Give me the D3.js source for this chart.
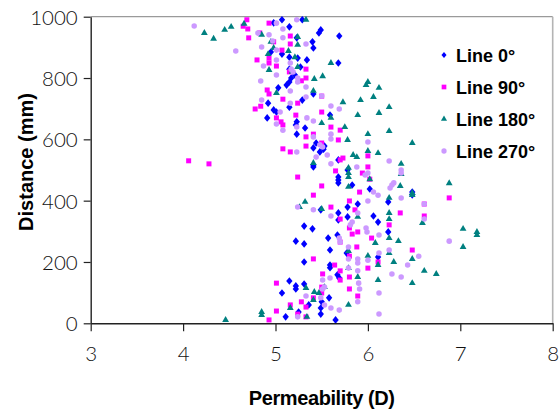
<!DOCTYPE html>
<html>
<head>
<meta charset="utf-8">
<script src="https://cdn.jsdelivr.net/npm/d3@7/dist/d3.min.js"></script>
<style>
  html, body { margin: 0; padding: 0; background: #fff; }
  svg { display: block; }
  .tick text { font-family: "Lato", "Liberation Sans", sans-serif; font-weight: 300; font-size: 20.5px; fill: #111; }
  .title { font-family: "Liberation Sans", Arial, sans-serif; font-weight: bold; font-size: 20px; fill: #000; }
  .legend text { font-family: "Liberation Sans", Arial, sans-serif; font-weight: bold; font-size: 18px; fill: #000; }
</style>
</head>
<body>
<script>
// Permeability readings [permeability (D), distance (mm)] along four survey lines
const seriesNames = ["Line 0°", "Line 90°", "Line 180°", "Line 270°"];
const seriesColors = ["#0000ff", "#ff00ff", "#008080", "#cc99ff"];

const line0 = [[5.07,990],[5.29,990],[4.98,980],[5.15,967],[5.49,957],[5.47,947],[5.69,937],[5.23,931],[5.40,918],[5.41,898],[4.95,885],[5.07,878],[5.15,868],[5.24,865],[5.34,859],[5.68,849],[5.27,836],[5.15,829],[5.21,810],[5.17,800],[5.15,787],[5.12,777],[5.03,768],[5.41,748],[5.29,728],[4.92,718],[5.15,705],[4.98,696],[5.01,689],[5.59,679],[4.91,670],[5.23,657],[5.22,647],[5.32,637],[5.23,617],[5.44,588],[5.53,578],[5.41,572],[5.52,568],[5.48,559],[5.68,533],[5.41,516],[5.41,510],[5.78,500],[5.68,477],[5.68,467],[5.68,458],[5.83,451],[6.02,438],[6.48,428],[6.48,419],[6.22,396],[5.89,389],[5.78,379],[5.49,370],[5.68,360],[6.06,350],[5.78,347],[5.68,337],[6.11,330],[5.31,317],[5.40,308],[6.22,298],[5.67,288],[5.57,278],[5.22,268],[5.31,259],[5.59,239],[5.77,229],[6.11,216],[5.31,200],[5.59,190],[5.59,181],[5.67,158],[5.69,148],[5.15,138],[5.31,128],[5.22,122],[5.22,112],[5.07,99],[5.58,83],[5.50,70],[5.36,60],[5.49,50],[5.25,37],[5.49,30],[5.11,21],[5.65,11]];

const line90 = [[4.69,990],[4.93,979],[4.65,969],[4.70,960],[4.83,947],[5.16,937],[4.71,931],[4.98,918],[5.16,911],[5.07,891],[4.80,859],[4.93,865],[4.93,849],[5.01,839],[5.33,829],[5.15,820],[5.33,800],[5.28,791],[4.91,761],[4.93,748],[5.50,741],[5.08,731],[5.24,718],[4.84,708],[4.78,699],[5.50,689],[5.22,679],[5.01,670],[5.06,657],[5.08,647],[5.60,640],[5.70,630],[5.41,617],[5.33,608],[5.68,598],[5.50,588],[5.33,578],[5.08,569],[5.16,559],[6.00,546],[5.73,539],[5.70,533],[4.06,530],[4.28,520],[6.00,510],[5.65,497],[5.94,490],[5.24,477],[6.02,470],[5.50,448],[5.91,428],[5.41,418],[6.88,409],[5.80,399],[6.61,389],[5.60,379],[5.86,370],[6.35,360],[6.61,350],[5.70,340],[6.23,321],[5.80,311],[5.89,298],[5.83,291],[6.04,278],[5.70,265],[5.88,249],[6.48,239],[5.80,219],[5.41,210],[6.11,200],[5.64,190],[6.00,180],[5.70,171],[5.51,161],[5.80,151],[5.70,141],[5.01,131],[5.50,118],[5.80,112],[5.50,99],[5.89,89],[5.41,83],[5.28,70],[5.16,60],[5.33,53],[5.01,40],[5.24,30],[5.33,21],[4.93,11]];

const line180 = [[5.33,990],[4.66,977],[4.52,967],[4.45,957],[4.23,947],[4.85,941],[5.24,934],[4.33,928],[4.95,918],[5.24,908],[4.98,898],[5.14,888],[4.92,878],[5.21,868],[5.60,849],[5.24,836],[4.93,826],[5.18,820],[5.51,806],[5.42,797],[6.00,787],[5.98,777],[6.12,768],[5.41,758],[5.01,751],[6.06,738],[5.92,728],[5.73,721],[6.23,705],[6.12,686],[5.89,679],[5.60,670],[5.50,653],[5.75,640],[6.23,627],[6.00,617],[5.78,598],[6.48,588],[6.00,562],[6.11,555],[5.84,549],[5.88,542],[5.41,523],[6.36,520],[5.79,507],[5.79,490],[6.36,487],[5.79,477],[6.02,470],[6.88,457],[6.35,448],[5.79,445],[6.48,425],[6.48,418],[6.23,409],[5.32,396],[5.26,379],[5.50,373],[6.23,360],[5.89,347],[6.23,340],[6.59,327],[7.03,308],[7.18,298],[7.18,288],[6.23,278],[6.33,268],[6.08,262],[7.03,249],[5.79,236],[6.23,229],[6.00,220],[6.48,210],[6.28,200],[6.11,190],[5.79,180],[6.61,171],[6.74,161],[5.89,151],[6.11,141],[6.48,131],[5.53,118],[5.33,115],[5.42,102],[5.47,99],[5.41,76],[5.79,60],[5.16,50],[4.85,37],[4.85,27],[5.34,21],[4.46,11]];

const line270 = [[4.12,970],[5.23,990],[5.01,979],[5.08,960],[4.81,947],[4.93,941],[5.08,931],[4.97,921],[5.33,911],[4.85,901],[5.01,891],[4.57,888],[5.01,859],[5.16,849],[4.87,839],[5.17,829],[5.19,820],[5.01,810],[5.24,800],[5.24,787],[4.84,790],[5.33,771],[5.16,758],[5.33,738],[5.50,741],[4.85,728],[5.16,718],[5.60,709],[5.69,699],[5.05,689],[5.34,670],[5.41,660],[5.01,650],[5.23,640],[5.08,630],[5.60,617],[5.41,608],[5.60,601],[6.00,591],[5.48,582],[5.51,575],[5.23,559],[5.56,549],[5.44,542],[6.23,529],[5.60,520],[5.88,510],[6.36,500],[6.00,490],[6.36,490],[5.97,484],[6.28,458],[6.26,451],[6.24,441],[6.06,428],[6.11,418],[6.36,409],[6.00,399],[6.61,389],[5.24,379],[5.41,370],[5.89,360],[5.60,350],[6.61,340],[5.83,330],[5.81,321],[5.98,311],[5.99,298],[6.12,288],[5.69,278],[6.88,268],[5.70,265],[5.79,249],[6.23,239],[6.12,229],[6.55,219],[5.89,210],[5.79,210],[6.00,206],[5.89,197],[6.43,190],[5.79,180],[5.89,171],[6.26,161],[5.59,148],[6.36,151],[5.51,141],[5.90,131],[5.53,118],[5.51,112],[6.12,99],[5.91,112],[5.33,89],[5.49,83],[5.89,70],[5.53,60],[5.60,50],[5.69,43],[6.12,30],[5.24,21]];

const xTicks = [3, 4, 5, 6, 7, 8];
const yTicks = [0, 200, 400, 600, 800, 1000];

const W = 560, H = 415;
const svg = d3.select("body").append("svg").attr("width", W).attr("height", H);

const x = d3.scaleLinear().domain([3, 8]).range([90.7, 552.7]);
const y = d3.scaleLinear().domain([0, 1000]).range([323.3, 16.7]);

// plot frame: grey top and right edges
svg.append("line").attr("x1", x(3)).attr("x2", x(8)).attr("y1", y(1000)).attr("y2", y(1000))
  .attr("stroke", "#9a9a9a").attr("stroke-width", 1.2);
svg.append("line").attr("x1", x(8)).attr("x2", x(8)).attr("y1", y(1000)).attr("y2", y(0))
  .attr("stroke", "#b4b4b4").attr("stroke-width", 1.6);

// a squat diamond, wider than d3's built-in one
const wideDiamond = {
  draw(ctx, size) {
    const h = Math.sqrt(size) * 0.72, w = Math.sqrt(size) * 0.6;
    ctx.moveTo(0, -h); ctx.lineTo(w, 0); ctx.lineTo(0, h); ctx.lineTo(-w, 0); ctx.closePath();
  }
};

// marker shapes per series
const shapes = [
  d3.symbol().type(wideDiamond).size(28),
  d3.symbol().type(d3.symbolSquare).size(25),
  d3.symbol().type(d3.symbolTriangle).size(20),
  d3.symbol().type(d3.symbolCircle).size(24)
];
const allSeries = [line0, line90, line180, line270];

allSeries.forEach((data, i) => {
  svg.append("g")
    .selectAll("path")
    .data(data)
    .join("path")
    .attr("d", shapes[i]())
    .attr("transform", d => `translate(${x(d[0])},${y(d[1])})`)
    .attr("fill", seriesColors[i]);
});

// axes
const xAxis = svg.append("g")
  .attr("transform", `translate(0,${y(0)})`)
  .call(d3.axisBottom(x).tickValues(xTicks).tickSize(8).tickSizeOuter(0).tickPadding(24).tickFormat(d3.format("d")));
const yAxis = svg.append("g")
  .attr("transform", `translate(${x(3)},0)`)
  .call(d3.axisLeft(y).tickValues(yTicks).tickSize(7).tickSizeOuter(0).tickPadding(6).tickFormat(d3.format("d")));
[xAxis, yAxis].forEach(g => {
  g.select(".domain").attr("stroke", "#222").attr("stroke-width", 1.4);
  g.selectAll(".tick line").attr("stroke", "#222").attr("stroke-width", 1.2);
});
xAxis.selectAll(".tick text").attr("dy", "0.3em");
yAxis.selectAll(".tick text").attr("dy", "0.36em");

// axis titles
svg.append("text").attr("class", "title")
  .attr("x", (x(3) + x(8)) / 2).attr("y", 405)
  .attr("text-anchor", "middle").attr("letter-spacing", "-0.4")
  .text("Permeability (D)");
svg.append("text").attr("class", "title")
  .attr("transform", "translate(33,162) rotate(-90)")
  .attr("text-anchor", "middle")
  .text("Distance (mm)");

// legend
const legend = svg.append("g").attr("class", "legend");
const legendShapes = [
  d3.symbol().type(wideDiamond).size(18),
  d3.symbol().type(d3.symbolSquare).size(22),
  d3.symbol().type(d3.symbolTriangle).size(16),
  d3.symbol().type(d3.symbolCircle).size(22)
];
seriesNames.forEach((name, i) => {
  const cy = 55 + i * 32;
  legend.append("path").attr("d", legendShapes[i]())
    .attr("transform", `translate(444,${cy})`).attr("fill", seriesColors[i]);
  legend.append("text").attr("x", 456).attr("y", cy + 6.5).text(name);
});
</script>
</body>
</html>
